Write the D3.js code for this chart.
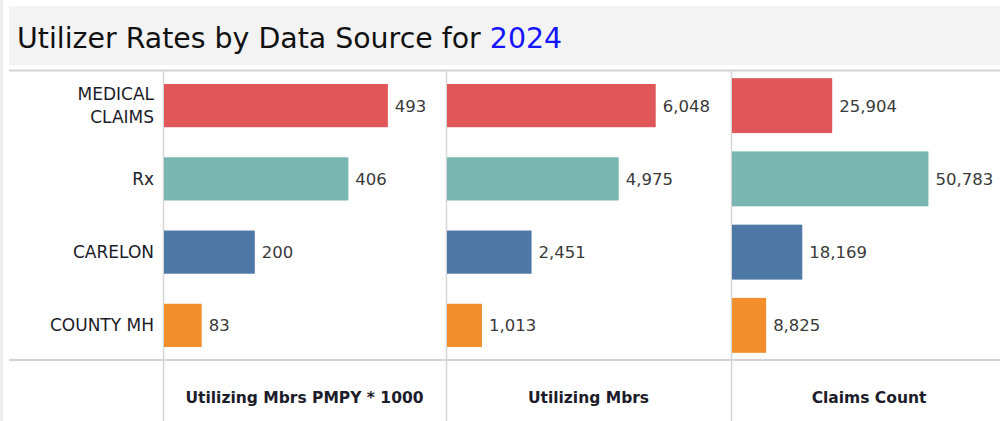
<!DOCTYPE html>
<html lang="en">
<head>
    <meta charset="UTF-8">
    <title>Utilizer Rates by Data Source</title>
    <script src="https://d3js.org/d3.v7.min.js"></script>
    <style>
        body { margin: 0; background: #fff; }
        svg { display: block; font-family: "DejaVu Sans", sans-serif; }
    </style>
</head>
<body>
<div id="chart"></div>
<script>
    const categories = ["MEDICAL CLAIMS", "Rx", "CARELON", "COUNTY MH"];
    const pmpyValues = [493, 406, 200, 83];
    const mbrsValues = [6048, 4975, 2451, 1013];
    const claimsValues = [25904, 50783, 18169, 8825];
    const measureNames = ["Utilizing Mbrs PMPY * 1000", "Utilizing Mbrs", "Claims Count"];
    const colors = ["#e15759", "#79b6b1", "#4e79a7", "#f28e2b"];

    const width = 1000, height = 421;
    const svg = d3.select('#chart').append('svg').attr('width', width).attr('height', height);

    // left strip + title band
    svg.append('rect').attr('x', 0).attr('y', 0).attr('width', 3).attr('height', height).attr('fill', '#eceef2');
    svg.append('rect').attr('x', 9).attr('y', 6).attr('width', width - 9).attr('height', 59).attr('fill', '#f3f3f3');
    const title = svg.append('text').attr('x', 17).attr('y', 48).attr('font-size', 28.4).attr('fill', '#111');
    title.append('tspan').text('Utilizer Rates by Data Source for ');
    title.append('tspan').attr('fill', '#1414ff').text('2024');

    const panelEdges = [163, 446, 731, 1007];
    const panels = [
        {name: measureNames[0], values: pmpyValues, max: 621, barFrac: 0.59},
        {name: measureNames[1], values: mbrsValues, max: 8230, barFrac: 0.59},
        {name: measureNames[2], values: claimsValues, max: 71100, barFrac: 0.75}
    ];

    const y = d3.scaleBand().domain(categories).range([69, 362]);
    const fmt = d3.format(',');

    // grid lines
    svg.append('line').attr('x1', 9).attr('x2', width).attr('y1', 70.5).attr('y2', 70.5)
        .attr('stroke', '#d3d3d3').attr('stroke-width', 2);
    svg.append('line').attr('x1', 9).attr('x2', width).attr('y1', 360).attr('y2', 360)
        .attr('stroke', '#d3d3d3').attr('stroke-width', 2);
    panelEdges.slice(0, 3).forEach(px => {
        svg.append('line').attr('x1', px + 0.5).attr('x2', px + 0.5).attr('y1', 71).attr('y2', height)
            .attr('stroke', '#d6d6d6').attr('stroke-width', 1.5);
    });

    // category labels
    svg.selectAll('text.cat').data(categories)
        .join('text')
        .attr('class', 'cat')
        .attr('x', 154)
        .attr('text-anchor', 'end')
        .attr('font-size', 17)
        .attr('fill', '#1c1c2a')
        .each(function (d) {
            const lines = d === 'MEDICAL CLAIMS' ? ['MEDICAL', 'CLAIMS'] : [d];
            const cy = y(d) + y.bandwidth() / 2;
            const t = d3.select(this);
            lines.forEach((l, i) => {
                t.append('tspan').attr('x', 154)
                    .attr('y', cy + 6 + (i - (lines.length - 1) / 2) * 23)
                    .text(l);
            });
        });

    panels.forEach((p, pi) => {
        const x = d3.scaleLinear().domain([0, p.max]).range([panelEdges[pi] + 1, panelEdges[pi + 1]]);
        const g = svg.append('g');
        const bh = y.bandwidth() * p.barFrac;
        g.selectAll('rect').data(p.values)
            .join('rect')
            .attr('x', x(0))
            .attr('y', (d, i) => y(categories[i]) + (y.bandwidth() - bh) / 2)
            .attr('width', d => x(d) - x(0))
            .attr('height', bh)
            .attr('fill', (d, i) => colors[i]);
        g.selectAll('text.val').data(p.values)
            .join('text')
            .attr('class', 'val')
            .attr('x', d => x(d) + 7)
            .attr('y', (d, i) => y(categories[i]) + y.bandwidth() / 2 + 6)
            .attr('font-size', 16.5)
            .attr('fill', '#3a3a3a')
            .text(d => fmt(d));
        svg.append('text')
            .attr('x', (panelEdges[pi] + panelEdges[pi + 1]) / 2)
            .attr('y', 403)
            .attr('text-anchor', 'middle')
            .attr('font-size', 15.5)
            .attr('font-weight', 'bold')
            .attr('fill', '#1c1c2a')
            .text(p.name);
    });
</script>
</body>
</html>
